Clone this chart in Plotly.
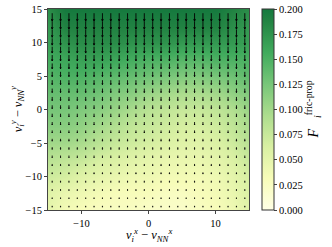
import numpy as np
import plotly.graph_objects as go
import plotly.figure_factory as ff

# heatmap grid (coarse); rows bottom (y=-15) -> top (y=15)
grid_x = [-15, -12.5, -10, -7.5, -5, -2.5, 0, 2.5, 5, 7.5, 10, 12.5, 15]
grid_y = [-15, -12.5, -10, -7.5, -5, -2.5, 0, 2.5, 5, 7.5, 10, 12.5, 15]
z_rows = [
    [0.05, 0.035, 0.03, 0.025, 0.025, 0.025, 0.02, 0.02, 0.02, 0.025, 0.03, 0.04, 0.055],
    [0.055, 0.045, 0.04, 0.035, 0.03, 0.03, 0.03, 0.025, 0.025, 0.03, 0.035, 0.045, 0.06],
    [0.07, 0.065, 0.055, 0.05, 0.045, 0.04, 0.04, 0.035, 0.035, 0.035, 0.04, 0.05, 0.065],
    [0.085, 0.08, 0.075, 0.065, 0.06, 0.055, 0.05, 0.045, 0.045, 0.045, 0.05, 0.06, 0.075],
    [0.10, 0.10, 0.095, 0.085, 0.075, 0.07, 0.065, 0.06, 0.055, 0.055, 0.06, 0.07, 0.085],
    [0.115, 0.115, 0.11, 0.10, 0.09, 0.08, 0.075, 0.07, 0.065, 0.065, 0.07, 0.08, 0.095],
    [0.125, 0.125, 0.12, 0.115, 0.105, 0.095, 0.085, 0.08, 0.075, 0.075, 0.08, 0.09, 0.105],
    [0.135, 0.135, 0.135, 0.13, 0.12, 0.115, 0.105, 0.10, 0.095, 0.095, 0.10, 0.11, 0.12],
    [0.145, 0.15, 0.15, 0.145, 0.14, 0.135, 0.13, 0.125, 0.12, 0.12, 0.125, 0.13, 0.14],
    [0.155, 0.16, 0.165, 0.165, 0.16, 0.155, 0.15, 0.15, 0.145, 0.145, 0.15, 0.15, 0.15],
    [0.165, 0.175, 0.18, 0.18, 0.18, 0.175, 0.175, 0.175, 0.17, 0.17, 0.17, 0.17, 0.165],
    [0.17, 0.19, 0.19, 0.19, 0.19, 0.19, 0.19, 0.19, 0.19, 0.19, 0.19, 0.18, 0.17],
    [0.18, 0.20, 0.20, 0.20, 0.20, 0.20, 0.20, 0.20, 0.20, 0.20, 0.20, 0.19, 0.18],
]

# quiver grid
arrow_x = [-14.375 + 1.25 * i for i in range(24)]
arrow_y = [-14.375 + 1.25 * j for j in range(24)]
# downward arrow length per row (bottom -> top)
arrow_len = [0.2, 0.2, 0.22, 0.24, 0.26, 0.28, 0.3, 0.32, 0.35, 0.38, 0.42, 0.46,
             0.5, 0.55, 0.6, 0.66, 0.72, 0.8, 0.88, 0.95, 1.02, 1.1, 1.15, 1.2]

cbar_ticks = [0.0, 0.025, 0.05, 0.075, 0.1, 0.125, 0.15, 0.175, 0.2]
y_ticks = [-15, -10, -5, 0, 5, 10, 15]
x_ticks = [-10, 0, 10]


def fmt(v):
    return ("−" + str(-v)) if v < 0 else str(v)


ylgn_cut = [
    [0.0, "#ffffe5"], [0.15625, "#f7fcb9"], [0.3125, "#d9f0a3"], [0.46875, "#addd8e"],
    [0.625, "#78c679"], [0.78125, "#41ab5d"], [0.9375, "#238443"], [1.0, "#15793e"],
]

X, Y = np.meshgrid(arrow_x, arrow_y)
U = np.zeros_like(X)
V = -np.repeat(np.array(arrow_len)[:, None], len(arrow_x), axis=1)

q = ff.create_quiver(X.ravel(), Y.ravel(), U.ravel(), V.ravel(), scale=1.0,
                     arrow_scale=0.3, angle=np.pi / 9,
                     line=dict(color="black", width=0.9))

fig = go.Figure()
fig.add_trace(go.Heatmap(
    x=grid_x, y=grid_y, z=z_rows, zmin=0, zmax=0.2, zsmooth="best",
    colorscale=ylgn_cut, hoverinfo="skip",
    colorbar=dict(
        x=1.065, xanchor="left", y=0.5, yanchor="middle", len=1.0, lenmode="fraction",
        ypad=0, xpad=0,
        thickness=12, outlinewidth=1, outlinecolor="#333",
        tickvals=cbar_ticks, ticktext=[f"{v:.3f}" for v in cbar_ticks],
        ticks="outside", ticklen=3, tickfont=dict(size=10.5),
    ),
))
for tr in q.data:
    tr.showlegend = False
    tr.hoverinfo = "skip"
    fig.add_trace(tr)

fig.update_layout(
    width=332, height=247,
    margin=dict(l=48, r=83, t=9, b=37, autoexpand=False),
    paper_bgcolor="white", plot_bgcolor="white",
    font=dict(family="Liberation Serif, DejaVu Serif, serif", color="black", size=10.5),
    showlegend=False, hovermode=False,
    annotations=[
        dict(text="<i>v</i><sub><i>i</i></sub><sup><i>x</i></sup> − <i>v</i><sub><i>NN</i></sub><sup><i>x</i></sup>",
             xref="paper", yref="paper", x=0.5, y=-0.125, xanchor="center", yanchor="middle",
             showarrow=False, font=dict(size=12.5)),
        dict(text="<i>v</i><sub><i>i</i></sub><sup><i>y</i></sup> − <i>v</i><sub><i>NN</i></sub><sup><i>y</i></sup>",
             xref="paper", yref="paper", x=-0.155, y=0.5, xanchor="center", yanchor="middle",
             textangle=-90, showarrow=False, font=dict(size=12.5)),
        dict(text="<i>F⃗</i><sub><i>i</i></sub><sup>fric-prop</sup>",
             xref="paper", yref="paper", x=1.318, y=0.5, xanchor="center", yanchor="middle",
             textangle=-90, showarrow=False, font=dict(size=14)),
    ],
)
fig.update_xaxes(range=[-15, 15], tickvals=x_ticks, ticktext=[fmt(v) for v in x_ticks],
                 ticks="outside", ticklen=3, showgrid=False, zeroline=False,
                 showline=True, linecolor="#444", mirror=True)
fig.update_yaxes(range=[-15, 15], tickvals=y_ticks, ticktext=[fmt(v) for v in y_ticks],
                 ticks="outside", ticklen=3, showgrid=False, zeroline=False,
                 showline=True, linecolor="#444", mirror=True)

fig.write_html("out.html", config={"displayModeBar": False, "staticPlot": True},
               post_script="document.body.style.margin='0';document.body.style.overflow='hidden';")
